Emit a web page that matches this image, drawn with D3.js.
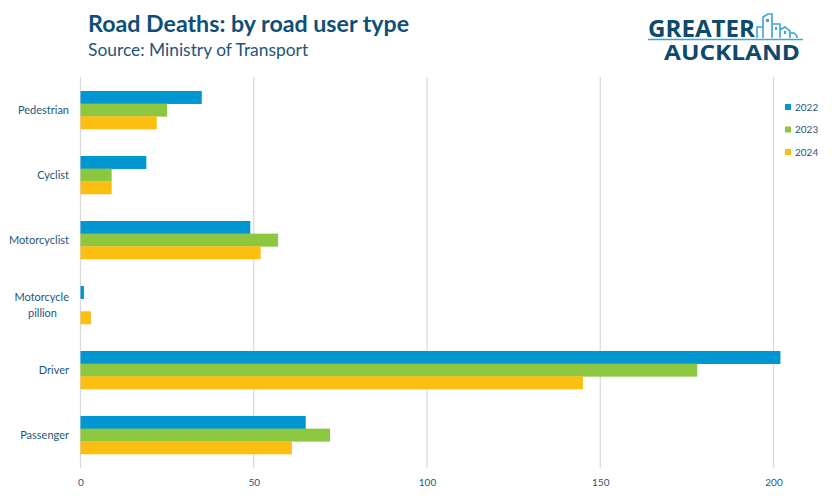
<!DOCTYPE html>
<html><head><meta charset="utf-8">
<script src="https://cdn.jsdelivr.net/npm/d3@7/dist/d3.min.js"></script>
<style>body{margin:0;background:#fff}svg{display:block}</style>
</head><body><svg id="c" width="832" height="499"></svg>
<script>
const categories = ["Pedestrian","Cyclist","Motorcyclist","Motorcycle pillion","Driver","Passenger"];
const series = ["2022","2023","2024"];
const values2022 = [35,19,49,1,202,65];
const values2023 = [25,9,57,0,178,72];
const values2024 = [22,9,52,3,145,61];
const xTicks = [0,50,100,150,200];
const colors = ["#0096D1","#8DC63F","#FDBE12"];

const svg = d3.select("#c");
const font = "Lato, 'Open Sans', sans-serif";
const textCol = "#1F5577";
const x = d3.scaleLinear().domain([0,216]).range([80.5, 80.5+3.465*216]);
const y = d3.scaleBand().domain(categories).range([77.5,467.5]).paddingInner(0).paddingOuter(0);
const yi = d3.scaleBand().domain(series).range([0,38]).padding(0);
const offset = (y.bandwidth()-38)/2;

// gridlines
svg.append("g").selectAll("line").data(xTicks).join("line")
  .attr("x1",d=>x(d)).attr("x2",d=>x(d)).attr("y1",77).attr("y2",468)
  .attr("stroke","#d9d9d9").attr("stroke-width",1.2);

const allVals = [values2022, values2023, values2024];
const data = [];
categories.forEach((c,i)=>series.forEach((s,j)=>data.push({c,s,v:allVals[j][i],j})));
svg.append("g").selectAll("rect").data(data.filter(d=>d.v>0)).join("rect")
  .attr("x",x(0)).attr("y",d=>y(d.c)+offset+yi(d.s))
  .attr("width",d=>x(d.v)-x(0)).attr("height",yi.bandwidth()+0.3)
  .attr("fill",d=>colors[d.j]);

// x axis tick labels
const xa = d3.axisBottom(x).tickValues(xTicks).tickSize(0).tickPadding(0);
const gx = svg.append("g").attr("transform","translate(0,479)").call(xa);
gx.select(".domain").remove();
gx.selectAll("text").attr("font-family",font).attr("font-size",10).attr("fill",textCol);

// y axis category labels
const ya = d3.axisLeft(y).tickSize(0).tickPadding(0);
const gy = svg.append("g").attr("transform","translate(69,0)").call(ya);
gy.select(".domain").remove();
gy.selectAll("text").attr("font-family",font).attr("font-size",11).attr("fill",textCol)
  .each(function(d){
    if(d==="Motorcycle pillion"){
      const t=d3.select(this); t.text(null);
      t.append("tspan").attr("x",0).attr("dy","-0.35em").text("Motorcycle");
      t.append("tspan").attr("x",-12).attr("dy","1.45em").text("pillion");
    }
  });

// legend
const lg = svg.append("g").selectAll("g").data(series).join("g")
  .attr("transform",(d,i)=>`translate(785,${107+i*22.5})`);
lg.append("rect").attr("x",0).attr("y",-3).attr("width",6).attr("height",6).attr("fill",(d,i)=>colors[i]);
lg.append("text").attr("x",10).attr("y",3.5).attr("font-family",font).attr("font-size",10).attr("fill",textCol).text(d=>d);

// title
svg.append("text").attr("x",88).attr("y",32).attr("font-family",font).attr("font-weight","bold")
  .attr("font-size",23.2).attr("fill","#0E4F75").text("Road Deaths: by road user type");
svg.append("text").attr("x",88).attr("y",56).attr("font-family",font)
  .attr("font-size",17.4).attr("fill","#1F5577").text("Source: Ministry of Transport");

// logo
const logo = svg.append("g");
const lt = logo.append("text").attr("font-family","'Open Sans', sans-serif").attr("font-weight","bold").attr("fill","#0D4A6C");
lt.append("tspan").attr("x",648).attr("y",37).attr("font-size",23)
  .attr("textLength",107).attr("lengthAdjust","spacingAndGlyphs").text("GREATER");
lt.append("tspan").attr("x",664).attr("y",60).attr("font-size",21)
  .attr("textLength",136).attr("lengthAdjust","spacingAndGlyphs").text("AUCKLAND");
logo.append("line").attr("x1",648).attr("x2",803).attr("y1",39.5).attr("y2",39.5).attr("stroke","#3CA2DC").attr("stroke-width",1.5);
const bl = "#3CA2DC";
logo.append("path").attr("d","M757,38 V27 H763 V38 M763,38 V17 L768,14 H772 V38 M772,38 V24 H780 V38 M780,38 V30 L785,27 L790,31 V38 M790,38 V33 H794 L797,36 V38")
  .attr("fill","none").attr("stroke",bl).attr("stroke-width",1.6);
logo.append("rect").attr("x",766).attr("y",19).attr("width",3).attr("height",3).attr("fill",bl);
logo.append("rect").attr("x",775).attr("y",27).attr("width",2).attr("height",3).attr("fill",bl);
logo.append("rect").attr("x",784).attr("y",31).attr("width",2).attr("height",3).attr("fill",bl);
</script></body></html>
